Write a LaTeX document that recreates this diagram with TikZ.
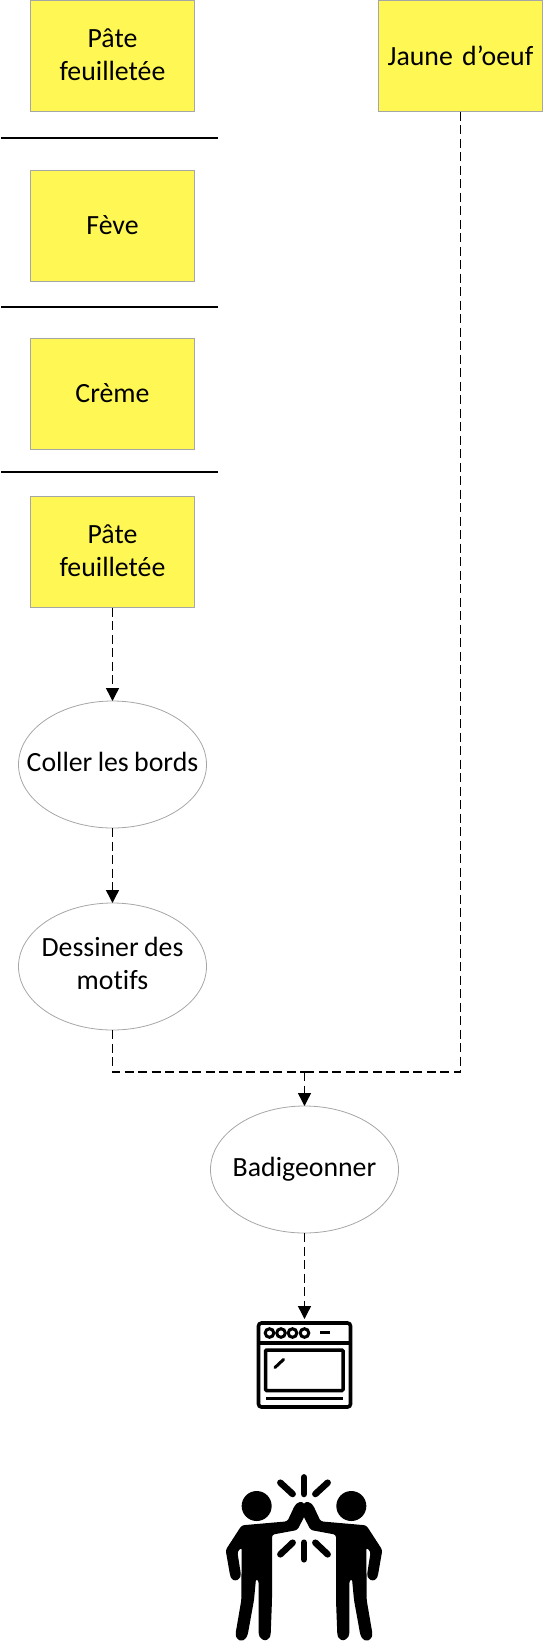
\documentclass[tikz,border=0pt]{standalone}
\usepackage{fontspec}
\setmainfont[Ligatures=NoCommon,WordSpace=0.85]{Carlito}
\usetikzlibrary{arrows.meta,shapes.geometric}
\definecolor{stickyfill}{HTML}{FFF854}
\definecolor{edgegray}{HTML}{A6A6A6}
\newcommand{\tasktext}[1]{\makebox[0pt]{\begin{tabular}{@{}c@{}}#1\end{tabular}}}
\newcommand{\liftrule}{\rule[-3pt]{0pt}{3pt}}
\tikzset{
  x=1pt,y=-1pt,
  sticky/.style={draw=edgegray,line width=1pt,fill=stickyfill,minimum width=164pt,minimum height=111pt,inner sep=0pt,outer sep=0pt,align=center,text width=160pt,font=\fontsize{27.8}{33}\selectfont},
  task/.style={draw=edgegray,line width=0.8pt,ellipse,minimum width=188pt,minimum height=127pt,inner sep=0pt,outer sep=0pt,font=\fontsize{27.8}{33}\selectfont},
  flow/.style={draw=black,line width=1.4pt,dash pattern=on 9pt off 4.5pt},
  flowarrow/.style={flow,-{Triangle[length=13pt,width=13pt]}},
  divider/.style={draw=black,line width=2pt},
  icon/.style={draw=black,line width=3.6pt},
  ray/.style={draw=black,line width=6.5pt,line cap=round},
}
\newcommand{\personfig}{%
  \fill (170,168) circle[radius=45];
  \fill[rounded corners=2.5pt] (125,226) -- (262,214) -- (285,165) -- (298,155) -- (312,157) -- (318,190) -- (292,240) -- (216,254) -- (216,450) -- (212,555) -- (208,565) -- (195,573) -- (182,565) -- (176,555) -- (176,392) -- (168,386) -- (162,450) -- (143,555) -- (136,568) -- (124,573) -- (112,568) -- (106,555) -- (124,450) -- (125,292) -- (112,305) -- (123,375) -- (118,387) -- (106,393) -- (94,387) -- (90,375) -- (77,300) -- cycle;
}
\begin{document}
\begin{tikzpicture}
\useasboundingbox (0,0) rectangle (544,1642);
% divider rules
\coordinate (d1a) at (1,137.5); \coordinate (d1b) at (218,137.5);
\coordinate (d2a) at (1,307); \coordinate (d2b) at (218,307);
\coordinate (d3a) at (1,472); \coordinate (d3b) at (218,472);
\draw[divider] (d1a) -- (d1b);
\draw[divider] (d2a) -- (d2b);
\draw[divider] (d3a) -- (d3b);
% ingredient boxes
\node[sticky] (p1) at (112.5,56) {Pâte\\feuilletée\liftrule};
\node[sticky,text depth=2pt] (feve) at (112.5,226) {Fève};
\node[sticky,text depth=2pt] (creme) at (112.5,394) {Crème};
\node[sticky] (p2) at (112.5,552) {Pâte\\feuilletée\liftrule};
\node[sticky] (jaune) at (460.5,56) {Jaune d’oeuf};
% steps
\node[task] (coller) at (112.5,764.5) {\tasktext{Coller les bords}};
\node[task] (dessiner) at (112.5,966.5) {\tasktext{Dessiner des\\motifs}};
\node[task] (badig) at (304.5,1169.5) {\tasktext{Badigeonner}};
% oven
\coordinate (ovenin) at (304.5,1319);
\coordinate (merge) at (304.5,1072);
% connectors
\draw[flowarrow] (p2) -- (coller);
\draw[flowarrow] (coller) -- (dessiner);
\draw[flow] (dessiner) |- (merge);
\draw[flow] (jaune) |- (merge);
\draw[flowarrow] (merge) -- (badig);
\draw[flowarrow] (badig) -- (ovenin);
% oven icon
\draw[icon,rounded corners=3pt] (258.5,1323) rectangle (350.5,1407);
\draw[icon] (258.5,1342.7) -- (350.5,1342.7);
\foreach \kx in {269.5,281,292.5,304.5}{\draw[black,line width=3pt] (\kx,1333) circle[radius=4.3];}
\draw[black,line width=3pt] (320,1332.7) -- (329.5,1332.7);
\draw[black,line width=3.5pt,rounded corners=1pt] (265.5,1350) rectangle (343,1390.5);
\draw[black,line width=3pt,line cap=round] (275,1367.5) -- (283.5,1359.5);
\draw[black,line width=3.5pt] (266,1398.3) -- (342.5,1398.3);
% high five
\begin{scope}[shift={(200,1450)},scale=1/3]
  \personfig
  \begin{scope}[shift={(624,0)},xscale=-1]
    \personfig
  \end{scope}
  \draw[ray] (312,82) -- (312,132);
  \draw[ray] (312,278) -- (312,328);
  \draw[ray] (241,98) -- (278,132);
  \draw[ray] (383,98) -- (346,132);
  \draw[ray] (278,278) -- (241,313);
  \draw[ray] (346,278) -- (383,313);
\end{scope}
\end{tikzpicture}
\end{document}
